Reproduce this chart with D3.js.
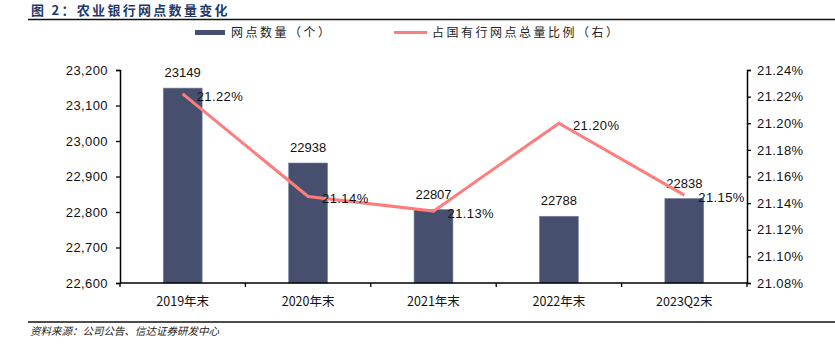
<!DOCTYPE html>
<html>
<head>
<meta charset="utf-8">
<script src="https://cdn.jsdelivr.net/npm/d3@7"></script>
<style>
  body { margin: 0; background: #fff; }
  svg { display: block; }
  text { font-family: "Liberation Sans", Arial, sans-serif; }
  .cjk { font-family: "Noto Sans CJK SC", sans-serif; }
</style>
</head>
<body>
<script>
// data
const categories = ['2019年末', '2020年末', '2021年末', '2022年末', '2023Q2末'];
const branches = [23149, 22938, 22807, 22788, 22838];
const shareValues = [21.222, 21.145, 21.134, 21.200, 21.146];
const shareLabels = ['21.22%', '21.14%', '21.13%', '21.20%', '21.15%'];
const leftTicks = [22600, 22700, 22800, 22900, 23000, 23100, 23200];
const rightTicks = [21.08, 21.10, 21.12, 21.14, 21.16, 21.18, 21.20, 21.22, 21.24];

const width = 835, height = 354;
const plot = { left: 120, right: 747, top: 70, bottom: 283 };

const barColor = '#464f6e';
const lineColor = '#ff7c7c';

const svg = d3.select('body').append('svg')
              .attr('width', width)
              .attr('height', height);

// title + rules
svg.append('text')
   .attr('class', 'cjk')
   .attr('x', 31).attr('y', 15)
   .attr('font-size', 13).attr('font-weight', 'bold')
   .attr('letter-spacing', 2.3)
   .attr('fill', '#1f3a6a')
   .text('图 2：农业银行网点数量变化');
svg.append('line')
   .attr('x1', 28).attr('x2', 835).attr('y1', 19.5).attr('y2', 19.5)
   .attr('stroke', '#111').attr('stroke-width', 1.5);
svg.append('line')
   .attr('x1', 28).attr('x2', 835).attr('y1', 322).attr('y2', 322)
   .attr('stroke', '#111').attr('stroke-width', 1.5);
svg.append('text')
   .attr('class', 'cjk')
   .attr('x', 30).attr('y', 335)
   .attr('font-size', 10.5).attr('font-style', 'italic')
   .attr('fill', '#222')
   .text('资料来源：公司公告、信达证券研发中心');

// legend
const legend = svg.append('g');
legend.append('rect')
      .attr('x', 195).attr('y', 30).attr('width', 30).attr('height', 5)
      .attr('fill', barColor);
legend.append('text')
      .attr('class', 'cjk')
      .attr('x', 231).attr('y', 37)
      .attr('font-size', 12).attr('fill', '#222')
      .attr('letter-spacing', 2.5)
      .text('网点数量（个）');
legend.append('line')
      .attr('x1', 394).attr('x2', 427).attr('y1', 32.5).attr('y2', 32.5)
      .attr('stroke', lineColor).attr('stroke-width', 3);
legend.append('text')
      .attr('class', 'cjk')
      .attr('x', 432).attr('y', 37)
      .attr('font-size', 12).attr('fill', '#222')
      .attr('letter-spacing', 2.5)
      .text('占国有行网点总量比例（右）');

// scales
const x = d3.scaleBand()
            .domain(categories)
            .range([plot.left, plot.right])
            .paddingInner(0.69)
            .paddingOuter(0.345);
const yLeft = d3.scaleLinear()
                .domain([22600, 23200])
                .range([plot.bottom, plot.top]);
const yRight = d3.scaleLinear()
                 .domain([21.08, 21.24])
                 .range([plot.bottom, plot.top]);
const step = (plot.right - plot.left) / categories.length;
const cx = d => x(d) + x.bandwidth() / 2;

// bars
svg.selectAll('rect.bar')
   .data(branches)
   .enter()
   .append('rect')
   .attr('class', 'bar')
   .attr('x', (d, i) => x(categories[i]))
   .attr('y', d => yLeft(d))
   .attr('width', x.bandwidth())
   .attr('height', d => yLeft(22600) - yLeft(d))
   .attr('fill', barColor)
   .attr('stroke', '#7a819a')
   .attr('stroke-width', 0.6);

svg.selectAll('text.barlabel')
   .data(branches)
   .enter()
   .append('text')
   .attr('class', 'barlabel')
   .attr('x', (d, i) => cx(categories[i]))
   .attr('y', d => yLeft(d) - 11)
   .attr('text-anchor', 'middle')
   .attr('font-size', 13).attr('fill', '#111')
   .text(d => d);

// line
const line = d3.line()
               .x((d, i) => cx(categories[i]))
               .y(d => yRight(d));
svg.append('path')
   .attr('d', line(shareValues))
   .attr('fill', 'none')
   .attr('stroke', lineColor)
   .attr('stroke-width', 3);

svg.selectAll('text.linelabel')
   .data(shareValues)
   .enter()
   .append('text')
   .attr('class', 'linelabel')
   .attr('x', (d, i) => cx(categories[i]) + 14)
   .attr('y', d => yRight(d) + 7)
   .attr('font-size', 13).attr('fill', '#111')
   .attr('letter-spacing', 0.4)
   .text((d, i) => shareLabels[i]);

// axes
const fmtLeft = d3.format(',');
const fmtRight = d => d.toFixed(2) + '%';

const leftAxis = svg.append('g')
   .attr('transform', `translate(${plot.left},0)`)
   .call(d3.axisLeft(yLeft).tickValues(leftTicks).tickSize(4).tickFormat(fmtLeft));
leftAxis.select('.domain').attr('stroke', '#000').attr('stroke-width', 1.5);
leftAxis.selectAll('.tick line').attr('stroke', '#000').attr('stroke-width', 1.3);
leftAxis.selectAll('.tick text')
        .attr('x', -12).attr('font-size', 13).attr('fill', '#111')
        .attr('letter-spacing', 0.4)
        .attr('font-family', '"Liberation Sans", Arial, sans-serif');

const rightAxis = svg.append('g')
   .attr('transform', `translate(${plot.right},0)`)
   .call(d3.axisRight(yRight).tickValues(rightTicks).tickSize(4).tickFormat(fmtRight));
rightAxis.select('.domain').attr('stroke', '#000').attr('stroke-width', 1.5);
rightAxis.selectAll('.tick line').attr('stroke', '#000').attr('stroke-width', 1.3);
rightAxis.selectAll('.tick text')
         .attr('x', 10).attr('font-size', 13).attr('fill', '#111')
         .attr('letter-spacing', 0.4)
         .attr('font-family', '"Liberation Sans", Arial, sans-serif');

// bottom axis with ticks between categories
const xAxis = svg.append('g')
   .attr('transform', `translate(0,${plot.bottom})`);
xAxis.append('line')
     .attr('x1', plot.left).attr('x2', plot.right)
     .attr('stroke', '#000').attr('stroke-width', 1.5);
xAxis.selectAll('line.sep')
     .data(d3.range(categories.length + 1))
     .enter()
     .append('line')
     .attr('class', 'sep')
     .attr('x1', i => plot.left + i * step)
     .attr('x2', i => plot.left + i * step)
     .attr('y1', 0).attr('y2', 4)
     .attr('stroke', '#000').attr('stroke-width', 1.3);
xAxis.selectAll('text')
     .data(categories)
     .enter()
     .append('text')
     .attr('class', 'cjk')
     .attr('x', d => cx(d))
     .attr('y', 23)
     .attr('text-anchor', 'middle')
     .attr('font-size', 12.5).attr('fill', '#111')
     .text(d => d);
</script>
</body>
</html>
